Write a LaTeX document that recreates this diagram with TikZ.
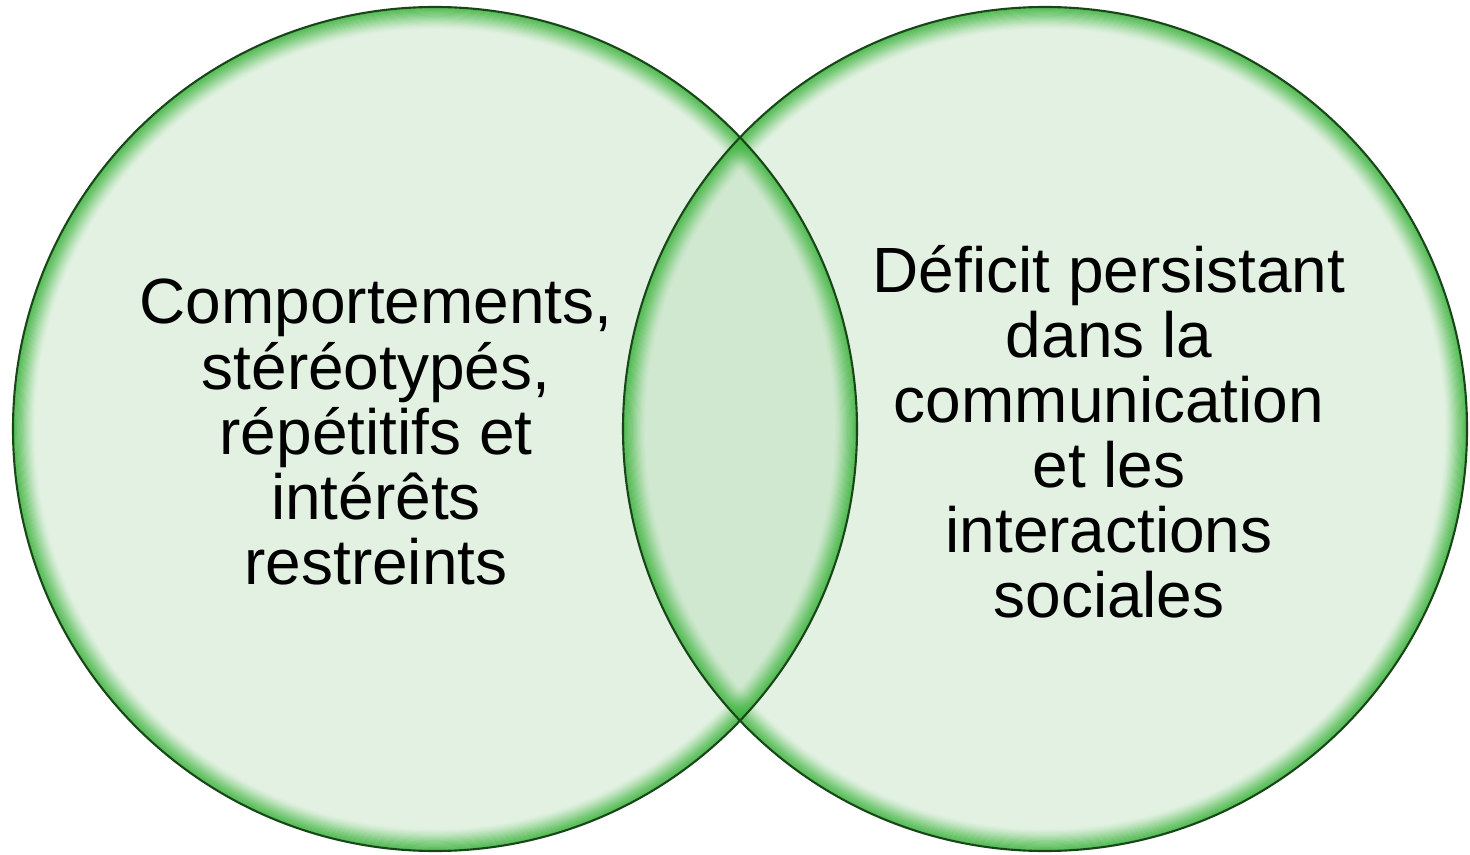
\documentclass[tikz,border=0pt]{standalone}
\usepackage{fontspec}
\setmainfont{Liberation Sans}
\usepackage{tikz}
\usetikzlibrary{positioning}
\definecolor{vennfill}{RGB}{170,214,170}
\definecolor{venngreen}{RGB}{60,180,60}
\definecolor{vennline}{RGB}{25,70,25}
\tikzset{
bubble/.style={circle, minimum size=8.44cm, inner sep=0pt, fill=vennfill, fill opacity=0.33},
label/.style={align=center, font=\fontsize{18.2}{18.5}\selectfont}
}

\begin{document}
\begin{tikzpicture}
\useasboundingbox (0,0) rectangle (14.70,8.54);
\node[bubble] (L) at (4.35,4.25) {};
\node[bubble] (R) at (10.45,4.25) {};
% green glow inside the rims
\foreach \c in {L,R}
  \foreach \i in {0,...,19}
    \draw[venngreen, line width=0.22mm, opacity={0.6*(1-\i/20)^1.5}] (\c) circle ({4.21-\i*0.011});
\foreach \c in {L,R}
  \draw[vennline, line width=0.6pt] (\c) circle (4.22);
\node[label] (tL) at (3.76,4.22) {Comportements,\\ stéréotypés,\\ répétitifs et\\ intérêts\\ restreints};
\node[label] (tR) at (11.09,4.22) {Déficit persistant\\ dans la\\ communication\\ et les\\ interactions\\ sociales};
\end{tikzpicture}
\end{document}
